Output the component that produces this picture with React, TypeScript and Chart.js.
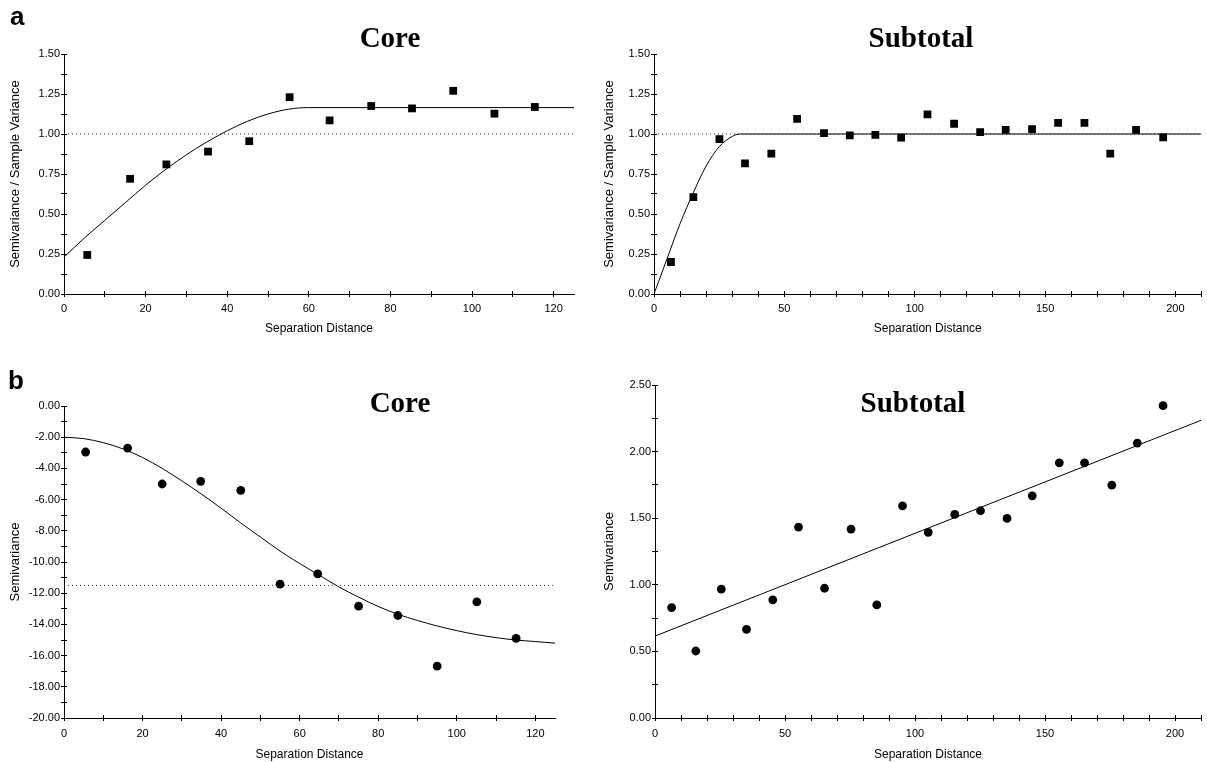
import React, { useEffect, useRef } from "react";
import { Chart, registerables } from "chart.js";

Chart.register(...registerables);
Chart.defaults.font.family = "'Liberation Sans', Arial, Helvetica, sans-serif";
Chart.defaults.color = "#000";

// ---------- Panel a – Core (standardised semivariance) ----------
const aCoreDist = [5.7, 16.2, 25.1, 35.3, 45.4, 55.3, 65.1, 75.3, 85.3, 95.4, 105.5, 115.4];
const aCoreVal = [0.244, 0.72, 0.81, 0.89, 0.955, 1.23, 1.085, 1.175, 1.16, 1.27, 1.127, 1.169];
const aCoreFitDist = [0, 5, 10, 15, 20, 25, 30, 35, 40, 45, 50, 55, 60, 125];
const aCoreFitVal = [0.23, 0.35, 0.46, 0.57, 0.68, 0.78, 0.87, 0.95, 1.02, 1.08, 1.125, 1.155, 1.165, 1.165];
const aCoreRef = 1.0;

// ---------- Panel a – Subtotal ----------
const aSubDist = [6.5, 15.1, 25.1, 34.9, 45, 54.9, 65.2, 75.1, 84.9, 94.8, 104.9, 115.1, 125.1, 134.9, 145, 155, 165.1, 175, 184.9, 195.3];
const aSubVal = [0.2, 0.605, 0.968, 0.817, 0.877, 1.095, 1.006, 0.991, 0.995, 0.977, 1.122, 1.064, 1.012, 1.026, 1.03, 1.07, 1.07, 0.877, 1.026, 0.979];
const aSubFitDist = [0, 5, 10, 15, 20, 25, 30, 33, 210];
const aSubFitVal = [0, 0.22, 0.44, 0.63, 0.8, 0.92, 0.985, 1.0, 1.0];
const aSubRef = 1.0;

// ---------- Panel b – Core (semivariance) ----------
const bCoreDist = [5.5, 16.2, 25, 34.8, 45, 55, 64.6, 75, 85, 95, 105.1, 115.1];
const bCoreVal = [-2.95, -2.7, -5.0, -4.83, -5.41, -11.42, -10.76, -12.83, -13.43, -16.68, -12.56, -14.89];
const bCoreFitDist = [0, 5, 10, 15, 20, 25, 30, 35, 40, 45, 50, 55, 60, 65, 70, 75, 80, 85, 90, 95, 100, 105, 110, 115, 120, 125];
const bCoreFitVal = [-2.0, -2.09, -2.35, -2.75, -3.3, -4.0, -4.8, -5.65, -6.55, -7.5, -8.4, -9.3, -10.1, -10.85, -11.6, -12.25, -12.85, -13.35, -13.75, -14.1, -14.4, -14.65, -14.85, -15.0, -15.1, -15.2];
const bCoreRef = -11.5;

// ---------- Panel b – Subtotal ----------
const bSubDist = [6.4, 15.7, 25.5, 35.2, 45.3, 55.2, 65.2, 75.4, 85.3, 95.2, 105.1, 115.3, 125.2, 135.4, 145.1, 155.5, 165.2, 175.7, 185.5, 195.4];
const bSubVal = [0.829, 0.503, 0.967, 0.666, 0.887, 1.433, 0.974, 1.418, 0.849, 1.593, 1.393, 1.528, 1.556, 1.498, 1.668, 1.916, 1.916, 1.748, 2.064, 2.345];
const bSubFitDist = [0, 210];
const bSubFitVal = [0.615, 2.235];

const xTitleText = "Separation Distance";
const yTitleA = "Semivariance / Sample Variance";
const yTitleB = "Semivariance";

type PanelSpec = {
  left: number; top: number; width: number; height: number;
  areaL: number; areaR: number; areaT: number; areaB: number;
  xMax: number; xStep: number; xLabelEvery: number;
  yMin: number; yMax: number; yStep: number; yLabelEvery: number;
  yTitle: string; yTitlePad: number; xTitlePad: number; xTickPad: number;
  dist: number[]; val: number[]; marker: "rect" | "circle"; markerRadius: number;
  fitDist: number[]; fitVal: number[]; smooth: boolean; refLevel: number | null;
};

const panels: PanelSpec[] = [
  {
    left: 0, top: 0, width: 600, height: 340, areaL: 64, areaR: 574, areaT: 54, areaB: 294,
    xMax: 125, xStep: 10, xLabelEvery: 20, yMin: 0, yMax: 1.5, yStep: 0.125, yLabelEvery: 0.25,
    yTitle: yTitleA, yTitlePad: 8, xTitlePad: 4, xTickPad: 5,
    dist: aCoreDist, val: aCoreVal, marker: "rect", markerRadius: 5.5,
    fitDist: aCoreFitDist, fitVal: aCoreFitVal, smooth: true, refLevel: aCoreRef,
  },
  {
    left: 600, top: 0, width: 607, height: 340, areaL: 54, areaR: 604, areaT: 54, areaB: 294,
    xMax: 210, xStep: 10, xLabelEvery: 50, yMin: 0, yMax: 1.5, yStep: 0.125, yLabelEvery: 0.25,
    yTitle: yTitleA, yTitlePad: 2, xTitlePad: 4, xTickPad: 5,
    dist: aSubDist, val: aSubVal, marker: "rect", markerRadius: 5.5,
    fitDist: aSubFitDist, fitVal: aSubFitVal, smooth: true, refLevel: aSubRef,
  },
  {
    left: 0, top: 360, width: 600, height: 402, areaL: 64, areaR: 555, areaT: 46, areaB: 358,
    xMax: 125, xStep: 10, xLabelEvery: 20, yMin: -20, yMax: 0, yStep: 1, yLabelEvery: 2,
    yTitle: yTitleB, yTitlePad: 7.6, xTitlePad: 0, xTickPad: 6,
    dist: bCoreDist, val: bCoreVal, marker: "circle", markerRadius: 4.4,
    fitDist: bCoreFitDist, fitVal: bCoreFitVal, smooth: true, refLevel: bCoreRef,
  },
  {
    left: 600, top: 360, width: 607, height: 402, areaL: 55, areaR: 601, areaT: 25, areaB: 358,
    xMax: 210, xStep: 10, xLabelEvery: 50, yMin: 0, yMax: 2.5, yStep: 0.25, yLabelEvery: 0.5,
    yTitle: yTitleB, yTitlePad: 2, xTitlePad: 0, xTickPad: 6,
    dist: bSubDist, val: bSubVal, marker: "circle", markerRadius: 4.4,
    fitDist: bSubFitDist, fitVal: bSubFitVal, smooth: false, refLevel: null,
  },
];

const isMultiple = (v: number, step: number) => Math.abs(v / step - Math.round(v / step)) < 1e-6;

const buildTicks = (min: number, max: number, step: number) => {
  const t: { value: number }[] = [];
  const n = Math.floor((max - min) / step + 1e-9);
  for (let i = 0; i <= n; i++) t.push({ value: Math.round((min + i * step) * 1000) / 1000 });
  return t;
};

const innerTicks = {
  id: "innerTicks",
  afterDraw(chart: any) {
    const { ctx, chartArea } = chart;
    const xs = chart.scales.x;
    const ys = chart.scales.y;
    ctx.save();
    ctx.strokeStyle = "#000";
    ctx.lineWidth = 1;
    ctx.beginPath();
    xs.ticks.forEach((_: any, i: number) => {
      const px = Math.round(xs.getPixelForTick(i) - 0.5) + 0.5;
      ctx.moveTo(px, chartArea.bottom);
      ctx.lineTo(px, chartArea.bottom - 3);
    });
    ys.ticks.forEach((_: any, i: number) => {
      const py = Math.round(ys.getPixelForTick(i) - 0.5) + 0.5;
      ctx.moveTo(chartArea.left, py);
      ctx.lineTo(chartArea.left + 3, py);
    });
    ctx.stroke();
    ctx.restore();
  },
};

function PanelChart({ p }: { p: PanelSpec }) {
  const ref = useRef<HTMLCanvasElement>(null);
  useEffect(() => {
    const canvas = ref.current;
    if (!canvas) return;
    const datasets: any[] = [
      {
        data: p.dist.map((x, i) => ({ x, y: p.val[i] })),
        pointStyle: p.marker,
        pointRadius: p.markerRadius,
        pointHoverRadius: p.markerRadius,
        backgroundColor: "#000",
        borderColor: "#000",
        pointBorderWidth: 0,
        showLine: false,
      },
      {
        data: p.fitDist.map((x, i) => ({ x, y: p.fitVal[i] })),
        showLine: true,
        borderColor: "#000",
        borderWidth: 1,
        pointRadius: 0,
        cubicInterpolationMode: p.smooth ? "monotone" : "default",
        tension: 0,
      },
    ];
    if (p.refLevel !== null) {
      datasets.push({
        data: [
          { x: 0, y: p.refLevel },
          { x: p.xMax, y: p.refLevel },
        ],
        showLine: true,
        borderColor: "#333",
        borderWidth: 1,
        borderDash: [1, 3],
        pointRadius: 0,
      });
    }
    const chart = new Chart(canvas, {
      type: "scatter",
      data: { datasets },
      plugins: [innerTicks as any],
      options: {
        animation: false,
        responsive: false,
        maintainAspectRatio: false,
        devicePixelRatio: 1,
        layout: {
          padding: { left: 0, top: p.areaT, right: p.width - p.areaR, bottom: 0 },
        },
        plugins: { legend: { display: false }, tooltip: { enabled: false }, title: { display: false } },
        scales: {
          x: {
            type: "linear",
            min: 0,
            max: p.xMax,
            afterBuildTicks: (s: any) => { s.ticks = buildTicks(0, p.xMax, p.xStep); },
            afterFit: (s: any) => { s.height = p.height - p.areaB; },
            ticks: {
              autoSkip: false,
              maxRotation: 0,
              minRotation: 0,
              padding: p.xTickPad,
              color: "#000",
              font: { size: 11 },
              callback: (v: any) => (isMultiple(Number(v), p.xLabelEvery) ? String(Math.round(Number(v))) : ""),
            },
            grid: { drawOnChartArea: false, drawTicks: true, tickLength: 3, color: "#000", tickColor: "#000" },
            border: { display: true, color: "#000", width: 1 },
            title: {
              display: true,
              text: xTitleText,
              color: "#000",
              font: { size: 12 },
              padding: { top: 0, bottom: p.xTitlePad },
            },
          },
          y: {
            type: "linear",
            min: p.yMin,
            max: p.yMax,
            afterBuildTicks: (s: any) => { s.ticks = buildTicks(p.yMin, p.yMax, p.yStep); },
            afterFit: (s: any) => { s.width = p.areaL; },
            ticks: {
              autoSkip: false,
              padding: 1,
              color: "#000",
              font: { size: 11 },
              callback: (v: any) => (isMultiple(Number(v), p.yLabelEvery) ? Number(v).toFixed(2) : ""),
            },
            grid: { drawOnChartArea: false, drawTicks: true, tickLength: 3, color: "#000", tickColor: "#000" },
            border: { display: true, color: "#000", width: 1 },
            title: {
              display: true,
              text: p.yTitle,
              color: "#000",
              font: { size: 13 },
              padding: { top: p.yTitlePad, bottom: 0 },
            },
          },
        },
      } as any,
    });
    return () => chart.destroy();
  }, [p]);
  return (
    <canvas
      ref={ref}
      width={p.width}
      height={p.height}
      style={{ position: "absolute", left: p.left, top: p.top, width: p.width, height: p.height }}
    />
  );
}

const titleFont = "bold 29px 'Liberation Serif', 'Times New Roman', Times, serif";
const letterFont = "bold 26px 'Liberation Sans', Arial, Helvetica, sans-serif";

const headings = [
  { text: "Core", cx: 390, top: 22.5 },
  { text: "Subtotal", cx: 921, top: 22.5 },
  { text: "Core", cx: 400, top: 388 },
  { text: "Subtotal", cx: 913, top: 388 },
];
const letters = [
  { text: "a", left: 10, top: 3 },
  { text: "b", left: 8, top: 367 },
];

export default function App() {
  return (
    <div style={{ position: "absolute", left: 0, top: 0, width: 1207, height: 762, background: "#fff", overflow: "hidden" }}>
      {panels.map((p, i) => (
        <PanelChart key={i} p={p} />
      ))}
      {headings.map((h, i) => (
        <div
          key={"h" + i}
          style={{
            position: "absolute",
            left: h.cx - 150,
            top: h.top,
            width: 300,
            textAlign: "center",
            font: titleFont,
            lineHeight: "29px",
            color: "#000",
            whiteSpace: "nowrap",
          }}
        >
          {h.text}
        </div>
      ))}
      {letters.map((l, i) => (
        <div
          key={"l" + i}
          style={{ position: "absolute", left: l.left, top: l.top, font: letterFont, lineHeight: "26px", color: "#000" }}
        >
          {l.text}
        </div>
      ))}
    </div>
  );
}
